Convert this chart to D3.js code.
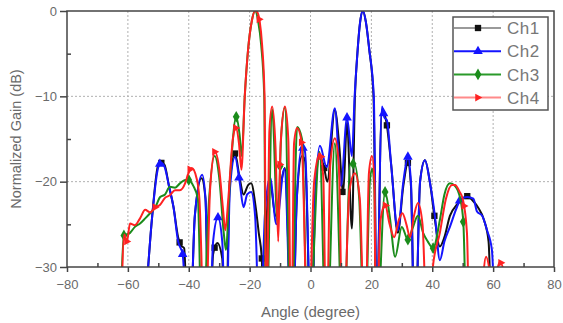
<!DOCTYPE html>
<html>
<head>
<meta charset="utf-8">
<script src="https://cdn.jsdelivr.net/npm/d3@7"></script>
<style>
  body { margin: 0; background: #fff; }
  svg { display: block; font-family: "Liberation Sans", Arial, sans-serif; }
</style>
</head>
<body>
<svg id="chart" width="563" height="323"></svg>
<script>
// ---- data (angle in degree, normalized gain in dB) ----
var ch1 = [[-54.5,-36],[-52,-24],[-50,-18],[-49,-17.8],[-48,-18],[-46.5,-20.5],[-45,-23],[-43.5,-26.5],[-42.5,-27.5],[-41.5,-27.8],[-40.6,-36],
  [-39.8,-40],[-38,-24],[-35.8,-19.6],[-34.5,-22],[-33.3,-40],[-32,-28.5],[-30.6,-27.2],[-29,-29],[-28,-40],
  [-26.5,-20],[-24.8,-16.7],[-23.3,-19.5],[-22,-21.5],[-20.5,-20.4],[-19.5,-20.2],[-18,-23],[-17,-26],[-16,-29],[-15.3,-40],
  [-14.5,-25],[-13.3,-20],[-11.5,-24],[-9.5,-19.8],[-8.4,-18.4],[-6,-40],[-4.5,-22],[-2.8,-17],[-1.8,-17.5],[0.3,-40],
  [1.5,-22],[3,-17],[4.5,-18.4],[5.5,-20],[8,-11.6],[9.5,-16],[10.7,-21.5],[12,-13],[13.6,-25.5],[14.6,-10],[15.4,-5],[16.3,-1.3],[17.2,0],[18.2,-1.3],[19.3,-4.5],[20.7,-10],[21.9,-40],
  [22.3,-30],[23.5,-11.5],[25.1,-13.4],[26.5,-18],[28.7,-26],[30.5,-20.5],[32,-17.8],[33,-20.5],[34.3,-40],[36,-20],[37.6,-17.5],[39.2,-20],[40.7,-24],
  [42.5,-27.6],[44,-26.5],[45.8,-24],[48.1,-22.7],[51.5,-21.7],[53.5,-22.3],[55,-23],[57,-24.5],[58.5,-27],[59.3,-36]];
var ch2 = [[-54.5,-36],[-52,-24],[-50,-18.3],[-49,-17.8],[-48,-18.2],[-46.5,-20.5],[-45,-23],[-43.5,-27],[-42,-28.5],[-40.8,-36],
  [-39.8,-40],[-38,-24],[-35.6,-19.2],[-34.5,-22],[-33.3,-40],[-32,-27],[-30.4,-24.2],[-29,-27],[-27.8,-40],
  [-26.5,-21],[-24.8,-17.1],[-23.3,-20],[-22,-23],[-20.8,-21.5],[-19.5,-21.2],[-18.2,-24],[-16.6,-40],
  [-15,-24],[-13.3,-19.5],[-11.2,-25],[-8.6,-18.5],[-6,-40],[-4.5,-22],[-2.8,-16],[-1.8,-16.5],[0.3,-40],
  [1.5,-22],[3.1,-15.8],[5.3,-18.3],[8,-11.4],[10,-20.5],[12,-12.5],[13.6,-17],[14.5,-10],[15.4,-5],[16.3,-1.3],[17.2,0],[18.2,-1.3],[19.3,-4.5],[20.8,-10],[21.9,-40],
  [22.3,-30],[23.5,-11.2],[24.3,-12.5],[25.1,-12.8],[26.5,-18],[28.7,-25.7],[30.5,-20],[32,-17.1],[33,-20],[34.3,-40],[36,-20],[37.6,-17.5],[39.2,-20],
  [40.9,-24.1],[42.5,-29.2],[44,-27],[45.8,-25.3],[48.1,-23],[49.5,-22],[51.5,-21.8],[53.5,-22],[54.7,-23.5],[56.4,-24],[58,-25.7],[59.6,-28],[60.5,-36]];
var ch3 = [[-62.5,-36],[-61.3,-26.3],[-59.3,-26],[-57.7,-25.3],[-56,-24.9],[-54.3,-24.3],[-52.7,-23.7],[-51,-23],[-49.4,-21.8],[-47.8,-21.5],[-46.2,-20.6],
  [-44.5,-20.7],[-42.9,-20.2],[-41.2,-19.8],[-40,-19.8],[-38.5,-20.5],[-37,-22],[-35.6,-40],
  [-33.5,-23],[-31.5,-17],[-30,-19.5],[-28.5,-26],[-27.8,-28],[-26.5,-20],[-24.4,-12.4],[-23.3,-14.5],[-22.6,-17],
  [-21.6,-10],[-20.5,-4.5],[-19.3,-1.2],[-18.2,0],[-17.2,-1.2],[-16.2,-4],[-15.2,-10],[-14.6,-40],[-12.6,-11.5],[-10.8,-25],[-9.6,-14.5],[-8.4,-11.3],[-6.3,-40],
  [-4.4,-13.6],[-2.8,-15],[-0.8,-40],[3,-16.5],[5.2,-40],[8,-15.5],[10.8,-40],[13,-18],[14.4,-17.9],[16,-22],[17.8,-40],[19.5,-20],[20.3,-18.5],[21,-21],[21.5,-40],
  [24.5,-21.2],[26,-24],[27.8,-28.8],[30,-25.3],[32,-26.8],[33.5,-25.5],[35.3,-24],[37,-26],[38.5,-27],[40.3,-27.8],[42.5,-24.5],
  [44,-21.5],[45.8,-20.2],[47.5,-20.5],[49.2,-22],[50.2,-24.7],[51.2,-40]];
var ch4 = [[-62.2,-36],[-61.2,-26.2],[-60.3,-27],[-59.3,-24.9],[-57.7,-25.1],[-56,-24.3],[-54.3,-23.3],[-52.7,-23.6],[-51,-23],[-49.4,-22.7],[-47.8,-21.9],
  [-46.2,-21.6],[-44.5,-21],[-42.9,-21],[-41.2,-20.2],[-40.2,-19.1],[-39,-18.4],[-37.5,-19.5],[-36.5,-22],[-34.7,-40],
  [-33,-21],[-31.4,-16.5],[-30,-18.5],[-28.8,-23],[-28,-25.7],[-27,-22],[-25.5,-15],[-24.5,-13.7],[-23.5,-15.5],[-22.7,-18.6],
  [-21.6,-10],[-20.5,-4.5],[-19.3,-1.2],[-18.2,0],[-17.6,-0.1],[-16.7,-1.2],[-15.9,-4],[-15.1,-10],[-14.5,-40],[-13.5,-14],[-12.6,-11.2],[-11.5,-16],[-10.6,-27],
  [-9.8,-15.5],[-8.4,-11.2],[-7.3,-15],[-6.3,-40],[-5.4,-15.5],[-4.4,-13.7],[-2.9,-15.4],[-0.8,-40],[1.2,-20],[3.1,-16.7],[4.2,-19.5],[5.2,-40],
  [6.5,-18],[8,-14.9],[9.3,-18],[10.6,-40],[12.8,-21],[14.6,-19],[16.2,-22],[17.9,-40],[19.2,-19],[20.2,-17],[21,-20],[21.5,-40],
  [23,-24.5],[24.5,-22.7],[26,-25],[27.5,-26.5],[29,-24.5],[30.2,-23.7],[31.5,-25],[32.7,-26.5],[34,-24],[35.3,-22.5],[36.8,-25],[38.5,-40],
  [40.2,-30],[42.5,-26],[44.5,-22],[46.5,-20.4],[47.5,-20.4],[49,-21.2],[50,-22],[51.4,-26],[52.4,-40],[55.5,-36],[57.7,-28.8],[60,-32],[62.2,-29.4],[64,-31]];

// angles where the symbols sit
var marks1 = [-49, -43, -31.5, -24.8, -16, 4.5, 10.5, 25.1, 32, 40.7, 51.5];
var marks2 = [-49.5, -42, -30.4, -23.5, -17, -2.5, 12, 24, 32, 49];
var marks3 = [-61.3, -40, -24.4, -10, 10.3, 14, 24.5, 32, 40.3, 50.2];
var marks4 = [-60.3, -51, -39.5, -31.4, -24.5, -16.8, -10, -2.9, 3.5, 24.7, 50.5, 62.6];

var names = ["Ch1", "Ch2", "Ch3", "Ch4"];
var xTicks = [-80, -60, -40, -20, 0, 20, 40, 60, 80];
var yTicks = [-30, -20, -10, 0];

var series = [
  {name: names[0], data: ch1, marks: marks1, color: "#111", legend: "#9a9a9a", sym: d3.symbolSquare},
  {name: names[1], data: ch2, marks: marks2, color: "#1414ff", legend: "#1414ff", sym: d3.symbolTriangle},
  {name: names[2], data: ch3, marks: marks3, color: "#1b8c1b", legend: "#2a9a2a", sym: d3.symbolDiamond},
  {name: names[3], data: ch4, marks: marks4, color: "#ff2222", legend: "#ff8a8a", sym: "right"}
];

var svg = d3.select("#chart");
var margin = {top: 11, right: 9, bottom: 56, left: 67};
var w = +svg.attr("width") - margin.left - margin.right;
var h = +svg.attr("height") - margin.top - margin.bottom;
var g = svg.append("g").attr("transform", "translate(" + margin.left + "," + margin.top + ")");

var x = d3.scaleLinear().domain([-80, 80]).range([0, w]);
var y = d3.scaleLinear().domain([-30, 0]).range([h, 0]);

svg.append("defs").append("clipPath").attr("id", "clip")
  .append("rect").attr("width", w).attr("height", h);

// dotted grid
g.append("g").selectAll("line").data(xTicks.slice(1, -1)).enter().append("line")
  .attr("x1", d => x(d)).attr("x2", d => x(d)).attr("y1", 0).attr("y2", h)
  .attr("stroke", "#b0b0b0").attr("stroke-dasharray", "2,2");
g.append("g").selectAll("line").data(yTicks.slice(1, -1)).enter().append("line")
  .attr("y1", d => y(d)).attr("y2", d => y(d)).attr("x1", 0).attr("x2", w)
  .attr("stroke", "#b0b0b0").attr("stroke-dasharray", "2,2");

// curves
var line = d3.line().x(d => x(d[0])).y(d => y(d[1])).curve(d3.curveMonotoneX);
var plot = g.append("g").attr("clip-path", "url(#clip)");

function symPath(s, size) {
  if (s === "right") {
    var r = Math.sqrt(size) * 0.62;
    return "M" + (r * 1.1) + ",0L" + (-r * 0.7) + "," + (-r) + "L" + (-r * 0.7) + "," + r + "Z";
  }
  return d3.symbol().type(s).size(size)();
}

series.forEach(function(s) {
  var p = plot.append("path").datum(s.data)
    .attr("d", line).attr("fill", "none")
    .attr("stroke", s.color).attr("stroke-width", 2).attr("stroke-linejoin", "round");
  // put each symbol on the drawn curve at its angle
  var node = p.node(), len = node.getTotalLength();
  s.marks.forEach(function(a) {
    var tx = x(a), lo = 0, hi = len;
    for (var i = 0; i < 40; i++) {
      var mid = (lo + hi) / 2;
      if (node.getPointAtLength(mid).x < tx) lo = mid; else hi = mid;
    }
    var pt = node.getPointAtLength(lo);
    plot.append("path").attr("d", symPath(s.sym, 40))
      .attr("transform", "translate(" + pt.x + "," + pt.y + ")")
      .attr("fill", s.color);
  });
});

// frame and ticks
var axisColor = "#444";
g.append("rect").attr("width", w).attr("height", h).attr("fill", "none")
  .attr("stroke", axisColor).attr("stroke-width", 1.5);

var xAxis = g.append("g").attr("transform", "translate(0," + h + ")")
  .call(d3.axisBottom(x).tickValues(xTicks).tickSize(5).tickFormat(d3.format("d")));
var xMinor = g.append("g").attr("transform", "translate(0," + h + ")")
  .call(d3.axisBottom(x).tickValues(d3.range(-70, 80, 20)).tickSize(-4).tickFormat(""));
var yAxis = g.append("g")
  .call(d3.axisLeft(y).tickValues(yTicks).tickSize(7).tickFormat(d3.format("d")));
var yMinor = g.append("g")
  .call(d3.axisLeft(y).tickValues([-25, -15, -5]).tickSize(-4).tickFormat(""));

[xAxis, xMinor, yAxis, yMinor].forEach(function(a) {
  a.select(".domain").remove();
  a.selectAll("line").attr("stroke", axisColor).attr("stroke-width", 1.5);
  a.selectAll("text").attr("fill", "#6a6a6a").style("font-size", "13px")
    .style("font-family", "'Liberation Sans', Arial, sans-serif");
});
xAxis.selectAll("text").attr("dy", "1.05em");
yAxis.selectAll("text").attr("x", -10);

// axis titles
svg.append("text").attr("x", margin.left + w / 2).attr("y", 317)
  .attr("text-anchor", "middle").attr("fill", "#6a6a6a").style("font-size", "15px")
  .text("Angle (degree)");
svg.append("text").attr("transform", "translate(21," + (margin.top + h / 2) + ") rotate(-90)")
  .attr("text-anchor", "middle").attr("fill", "#6a6a6a").style("font-size", "14.5px")
  .text("Normalized Gain (dB)");

// legend
var lg = svg.append("g").attr("transform", "translate(453,17)");
lg.append("rect").attr("width", 95).attr("height", 93).attr("fill", "#fff")
  .attr("stroke", "#555").attr("stroke-width", 1.5);
series.forEach(function(s, i) {
  var ry = 11 + i * 23.2;
  lg.append("line").attr("x1", 1).attr("x2", 48).attr("y1", ry).attr("y2", ry)
    .attr("stroke", s.legend).attr("stroke-width", 2);
  lg.append("path").attr("d", symPath(s.sym, 40))
    .attr("transform", "translate(25," + ry + ")").attr("fill", s.color);
  lg.append("text").attr("x", 54).attr("y", ry).attr("dy", "0.36em")
    .attr("fill", "#777").style("font-size", "17px").style("letter-spacing", "0.5px")
    .text(s.name);
});
</script>
</body>
</html>
